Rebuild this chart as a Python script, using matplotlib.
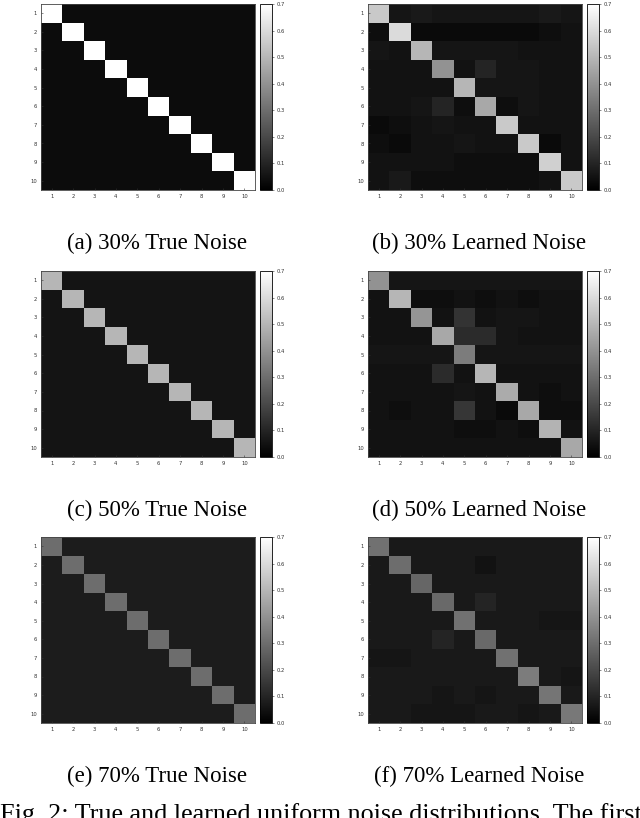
import numpy as np
import matplotlib
matplotlib.use("Agg")
import matplotlib.pyplot as plt

classes = [1, 2, 3, 4, 5, 6, 7, 8, 9, 10]
cbar_ticks = [0, 0.1, 0.2, 0.3, 0.4, 0.5, 0.6, 0.7]
noise_rates = [0.3, 0.5, 0.7]

# learned transition matrices (rows = true class)
learned_30 = [
    [0.55, 0.06, 0.07, 0.06, 0.06, 0.06, 0.06, 0.06, 0.07, 0.06],
    [0.04, 0.60, 0.03, 0.03, 0.03, 0.03, 0.03, 0.03, 0.04, 0.05],
    [0.06, 0.05, 0.50, 0.06, 0.06, 0.06, 0.06, 0.05, 0.05, 0.05],
    [0.05, 0.05, 0.05, 0.40, 0.05, 0.10, 0.06, 0.06, 0.05, 0.05],
    [0.05, 0.05, 0.05, 0.05, 0.50, 0.06, 0.06, 0.06, 0.05, 0.05],
    [0.05, 0.05, 0.06, 0.10, 0.04, 0.46, 0.04, 0.06, 0.05, 0.05],
    [0.03, 0.04, 0.05, 0.06, 0.05, 0.05, 0.55, 0.05, 0.05, 0.05],
    [0.04, 0.03, 0.05, 0.05, 0.06, 0.05, 0.05, 0.55, 0.03, 0.05],
    [0.05, 0.05, 0.05, 0.05, 0.04, 0.04, 0.04, 0.04, 0.57, 0.05],
    [0.05, 0.07, 0.04, 0.04, 0.04, 0.04, 0.04, 0.04, 0.05, 0.55],
]

learned_50 = [
    [0.40, 0.06, 0.06, 0.06, 0.06, 0.06, 0.06, 0.06, 0.06, 0.06],
    [0.05, 0.50, 0.04, 0.04, 0.05, 0.04, 0.05, 0.04, 0.05, 0.05],
    [0.05, 0.05, 0.41, 0.05, 0.14, 0.05, 0.06, 0.06, 0.05, 0.05],
    [0.05, 0.05, 0.05, 0.46, 0.12, 0.12, 0.06, 0.05, 0.05, 0.05],
    [0.06, 0.06, 0.06, 0.06, 0.34, 0.06, 0.06, 0.06, 0.06, 0.06],
    [0.05, 0.05, 0.05, 0.12, 0.05, 0.50, 0.05, 0.05, 0.05, 0.05],
    [0.05, 0.05, 0.05, 0.05, 0.06, 0.05, 0.47, 0.05, 0.04, 0.05],
    [0.05, 0.04, 0.05, 0.05, 0.15, 0.05, 0.03, 0.46, 0.04, 0.04],
    [0.05, 0.05, 0.05, 0.05, 0.04, 0.04, 0.05, 0.04, 0.49, 0.05],
    [0.05, 0.05, 0.05, 0.05, 0.05, 0.05, 0.05, 0.05, 0.05, 0.46],
]

learned_70 = [
    [0.31, 0.07, 0.07, 0.07, 0.07, 0.07, 0.07, 0.07, 0.07, 0.07],
    [0.07, 0.30, 0.07, 0.07, 0.07, 0.05, 0.07, 0.07, 0.07, 0.07],
    [0.07, 0.07, 0.28, 0.07, 0.07, 0.07, 0.07, 0.07, 0.07, 0.07],
    [0.07, 0.07, 0.07, 0.29, 0.07, 0.10, 0.07, 0.07, 0.07, 0.07],
    [0.07, 0.07, 0.07, 0.07, 0.31, 0.07, 0.07, 0.07, 0.06, 0.06],
    [0.07, 0.07, 0.07, 0.10, 0.07, 0.29, 0.07, 0.07, 0.07, 0.07],
    [0.06, 0.06, 0.07, 0.07, 0.07, 0.07, 0.31, 0.07, 0.07, 0.07],
    [0.07, 0.07, 0.07, 0.07, 0.07, 0.07, 0.07, 0.34, 0.07, 0.06],
    [0.07, 0.07, 0.07, 0.06, 0.07, 0.06, 0.07, 0.07, 0.32, 0.07],
    [0.07, 0.07, 0.06, 0.06, 0.06, 0.07, 0.07, 0.06, 0.07, 0.33],
]

true_captions = ["(a) 30% True Noise", "(c) 50% True Noise", "(e) 70% True Noise"]
learned_captions = ["(b) 30% Learned Noise", "(d) 50% Learned Noise", "(f) 70% Learned Noise"]
learned = [learned_30, learned_50, learned_70]

W, H = 640, 818
fig = plt.figure(figsize=(W / 100, H / 100), dpi=100)


def px(x0, y0, w, h):
    return [x0 / W, 1 - (y0 + h) / H, w / W, h / H]


def draw(m, left, top, caption, cap_x):
    ax = fig.add_axes(px(left, top, 214, 186))
    im = ax.imshow(np.array(m), cmap="gray", vmin=0, vmax=0.7,
                   interpolation="nearest", aspect="auto")
    ax.set_xticks(range(len(classes)))
    ax.set_yticks(range(len(classes)))
    ax.set_xticklabels(classes, fontsize=3.8)
    ax.set_yticklabels(classes, fontsize=3.8)
    ax.tick_params(direction="in", length=1.5, width=0.4, pad=3, colors="#333333")
    for s in ax.spines.values():
        s.set_linewidth(0.6)
        s.set_color("#444444")
    cax = fig.add_axes(px(left + 219, top, 12, 186))
    cb = fig.colorbar(im, cax=cax, ticks=cbar_ticks)
    cb.ax.tick_params(labelsize=3.8, length=1.5, width=0.4, pad=2, colors="#333333")
    cb.outline.set_linewidth(0.6)
    fig.text(cap_x / W, 1 - (top + 239) / H, caption, ha="center", va="center",
             fontsize=16.5, family="Liberation Serif")


tops = [4, 271, 537]
for i, rate in enumerate(noise_rates):
    n = len(classes)
    true_m = np.full((n, n), rate / (n - 1))
    np.fill_diagonal(true_m, 1 - rate)
    draw(true_m, 41, tops[i], true_captions[i], 157)
    draw(learned[i], 368, tops[i], learned_captions[i], 479)

fig.text(0.5 / W, 1 - 821 / H, "Fig. 2: True and learned uniform noise distributions. The first",
         ha="left", va="baseline", fontsize=18.8, family="Liberation Serif")

fig.savefig("out.png", dpi=100)
